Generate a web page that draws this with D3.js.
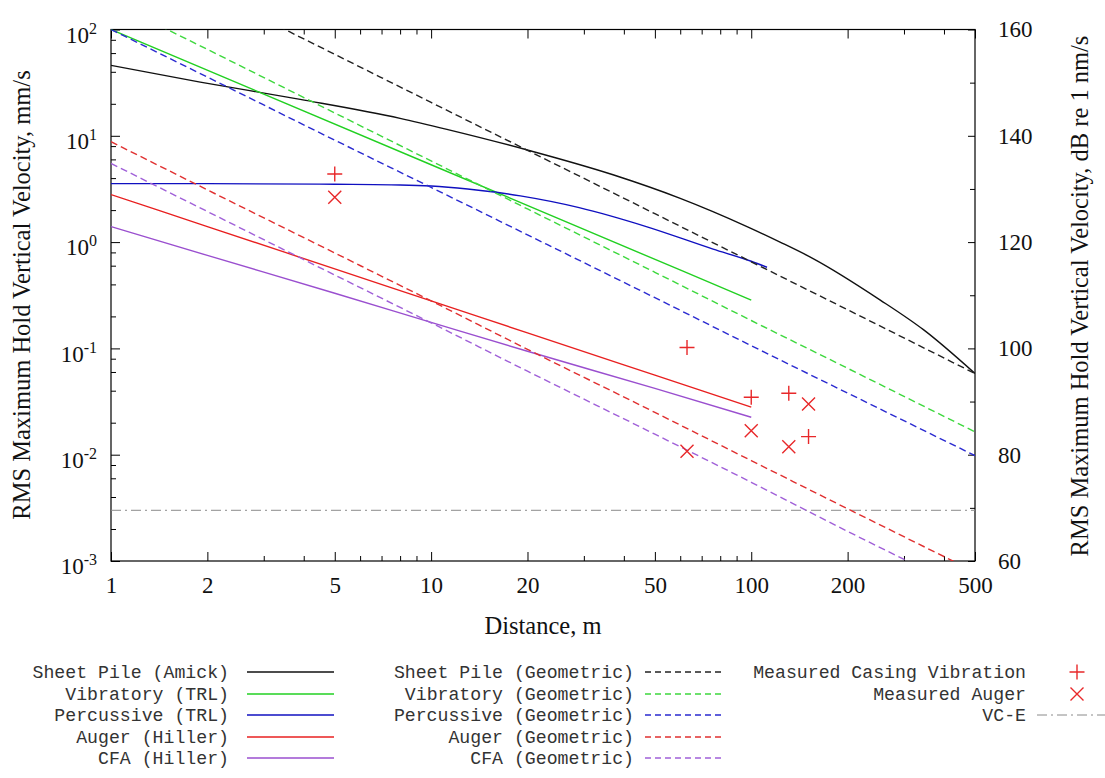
<!DOCTYPE html>
<html><head><meta charset="utf-8">
<script src="https://cdn.jsdelivr.net/npm/d3@7/dist/d3.min.js"></script>
<style>body{margin:0;background:#fff}svg{display:block}</style>
</head><body><svg id="c" width="1105" height="778"></svg>
<script>
// ---- data (distance m, RMS max-hold vertical velocity mm/s) ----
const xTicksMajor = [1, 2, 5, 10, 20, 50, 100, 200, 500];
const xTicksMinor = [3, 4, 6, 7, 8, 9, 30, 40, 60, 70, 80, 90, 300, 400];
const yTicksMajor = [1e-3, 1e-2, 1e-1, 1, 10, 100];
const yTicksMinor = [0.002, 0.004, 0.006, 0.008, 0.02, 0.04, 0.06, 0.08, 0.2, 0.4, 0.6, 0.8, 2, 4, 6, 8, 20, 40, 60, 80];
const dbTicksMajor = [60, 80, 100, 120, 140, 160];
const dbTicksMinor = [70, 90, 110, 130, 150];

const geoDist = [1, 2, 5, 10, 20, 50, 100, 200, 500];

const amickDist = [1, 1.9, 3.9, 8, 11.2, 20, 37, 60, 97, 123, 156, 253, 345, 500];
const amickVel  = [46, 32, 22, 14.6, 11.5, 7.35, 4.3, 2.58, 1.4, 1.0, 0.70, 0.285, 0.15, 0.058];
const vibTrlDist = [1, 10, 100];
const vibTrlVel  = [100, 5.34, 0.285];
const percTrlDist = [1, 2, 5, 8, 10, 13, 16, 19, 29, 47, 76, 100, 112];
const percTrlVel  = [3.55, 3.55, 3.5, 3.45, 3.37, 3.16, 2.94, 2.72, 2.11, 1.4, 0.86, 0.66, 0.58];
const augerHillerDist = [1, 2, 5, 10, 20, 50, 100];
const augerHillerVel  = [2.8, 1.4, 0.56, 0.28, 0.14, 0.056, 0.028];
const cfaHillerDist = [1, 2, 5, 10, 20, 50, 100];
const cfaHillerVel  = [1.4, 0.75, 0.33, 0.176, 0.094, 0.042, 0.0225];

const sheetGeoVel = [653, 231, 58.4, 20.6, 7.3, 1.85, 0.653, 0.231, 0.058];
const vibGeoVel   = [183, 65, 16.4, 5.8, 2.05, 0.52, 0.183, 0.065, 0.0164];
const percGeoVel  = [100, 35.7, 9.1, 3.27, 1.17, 0.30, 0.106, 0.038, 0.0098];
const augerGeoVel = [8.8, 3.1, 0.79, 0.28, 0.098, 0.025, 0.0088, 0.0031, 0.00079];
const cfaGeoVel   = [5.5, 1.94, 0.49, 0.174, 0.061, 0.0156, 0.0055, 0.0019, 0.00049];

const casingDist = [5, 63, 100, 131, 151];
const casingVel  = [4.37, 0.102, 0.0347, 0.0378, 0.0148];
const augerMeasDist = [5, 63, 100, 131, 151];
const augerMeasVel  = [2.64, 0.0108, 0.0168, 0.0119, 0.030];
const vceLevel = 0.003;

const seriesNames = ["Sheet Pile (Amick)", "Vibratory (TRL)", "Percussive (TRL)", "Auger (Hiller)", "CFA (Hiller)",
  "Sheet Pile (Geometric)", "Vibratory (Geometric)", "Percussive (Geometric)", "Auger (Geometric)", "CFA (Geometric)"];
const seriesColors = ["#111111", "#22d022", "#1010c0", "#e82020", "#9a4fcf",
  "#222222", "#3ed83e", "#2a2ad0", "#e03030", "#a060d8"];

// ---- layout ----
const svg = d3.select("#c");
const L = 111, R = 975, T = 29.5, B = 561;
const x = d3.scaleLog().domain([1, 500]).range([L, R]);
const y = d3.scaleLog().domain([1e-3, 1e2]).range([B, T]);
const yR = d3.scaleLinear().domain([60, 160]).range([B, T]);

svg.append("defs").append("clipPath").attr("id", "clip")
  .append("rect").attr("x", L).attr("y", T).attr("width", R - L).attr("height", B - T);

const serif = "'Liberation Serif', 'Times New Roman', serif";
const mono = "'Liberation Mono', 'Courier New', monospace";

function styleAxis(g) {
  g.select(".domain").remove();
  g.selectAll(".tick line").attr("stroke", "#000").attr("stroke-width", 1);
  g.selectAll("text").attr("font-family", serif).attr("font-size", 23).attr("fill", "#111");
}

// bottom axis
svg.append("g").attr("transform", `translate(0,${B})`)
  .call(d3.axisBottom(x).tickValues(xTicksMajor).tickFormat(d3.format("d")).tickSizeInner(-9).tickSizeOuter(0).tickPadding(16))
  .call(styleAxis);
svg.append("g").attr("transform", `translate(0,${B})`)
  .call(d3.axisBottom(x).tickValues(xTicksMinor).tickFormat("").tickSizeInner(-5).tickSizeOuter(0))
  .call(styleAxis);
// top axis mirror
svg.append("g").attr("transform", `translate(0,${T})`)
  .call(d3.axisTop(x).tickValues(xTicksMajor).tickFormat("").tickSizeInner(-9).tickSizeOuter(0))
  .call(styleAxis);
svg.append("g").attr("transform", `translate(0,${T})`)
  .call(d3.axisTop(x).tickValues(xTicksMinor).tickFormat("").tickSizeInner(-5).tickSizeOuter(0))
  .call(styleAxis);
// left axis
const gl = svg.append("g").attr("transform", `translate(${L},0)`)
  .call(d3.axisLeft(y).tickValues(yTicksMajor).tickSizeInner(-9).tickSizeOuter(0).tickPadding(24))
  .call(styleAxis);
gl.selectAll(".tick text").each(function(d) {
  const t = d3.select(this);
  t.text("").attr("x", -14).attr("dy", "0.55em");
  t.append("tspan").text("10");
  t.append("tspan").attr("dy", "-0.55em").attr("font-size", 16).text(Math.round(Math.log10(d)));
});
svg.append("g").attr("transform", `translate(${L},0)`)
  .call(d3.axisLeft(y).tickValues(yTicksMinor).tickFormat("").tickSizeInner(-5).tickSizeOuter(0))
  .call(styleAxis);
// right axis (dB)
svg.append("g").attr("transform", `translate(${R},0)`)
  .call(d3.axisRight(yR).tickValues(dbTicksMajor).tickFormat(d3.format("d")).tickSizeInner(-7).tickSizeOuter(0).tickPadding(23))
  .call(styleAxis);
svg.append("g").attr("transform", `translate(${R},0)`)
  .call(d3.axisRight(yR).tickValues(dbTicksMinor).tickFormat("").tickSizeInner(-5).tickSizeOuter(0))
  .call(styleAxis);

// frame
svg.append("rect").attr("x", L).attr("y", T).attr("width", R - L).attr("height", B - T)
  .attr("fill", "none").attr("stroke", "#000").attr("stroke-width", 1.2);

// titles
svg.append("text").attr("x", 543).attr("y", 634).attr("text-anchor", "middle")
  .attr("font-family", serif).attr("font-size", 24.5).attr("fill", "#111").text("Distance, m");
svg.append("text").attr("transform", "translate(30,295) rotate(-90)").attr("text-anchor", "middle")
  .attr("font-family", serif).attr("font-size", 24.5).attr("fill", "#111")
  .text("RMS Maximum Hold Vertical Velocity, mm/s");
svg.append("text").attr("transform", "translate(1088,296) rotate(-90)").attr("text-anchor", "middle")
  .attr("font-family", serif).attr("font-size", 24.5).attr("fill", "#111")
  .text("RMS Maximum Hold Vertical Velocity, dB re 1 nm/s");

// ---- curves ----
const plot = svg.append("g").attr("clip-path", "url(#clip)");
const line = d3.line().x(d => x(d[0])).y(d => y(d[1])).curve(d3.curveMonotoneX);
const dash = "7,4";
const curves = [
  [amickDist, amickVel, 0, null],
  [vibTrlDist, vibTrlVel, 1, null],
  [percTrlDist, percTrlVel, 2, null],
  [augerHillerDist, augerHillerVel, 3, null],
  [cfaHillerDist, cfaHillerVel, 4, null],
  [geoDist, sheetGeoVel, 5, dash],
  [geoDist, vibGeoVel, 6, dash],
  [geoDist, percGeoVel, 7, dash],
  [geoDist, augerGeoVel, 8, dash],
  [geoDist, cfaGeoVel, 9, dash]
];
// VC-E
plot.append("line").attr("x1", L).attr("x2", R).attr("y1", y(vceLevel)).attr("y2", y(vceLevel))
  .attr("stroke", "#8a8a8a").attr("stroke-width", 1).attr("stroke-dasharray", "10,4,2,4");
curves.forEach(([xs, vs, ci, da]) => {
  plot.append("path").datum(xs.map((d, i) => [d, vs[i]]))
    .attr("d", line).attr("fill", "none").attr("stroke", seriesColors[ci])
    .attr("stroke-width", 1.4).attr("stroke-dasharray", da);
});

// markers
const red = "#e8282a";
function plus(g, cx, cy, s) {
  g.append("path").attr("d", `M${cx - s},${cy}H${cx + s}M${cx},${cy - s}V${cy + s}`)
    .attr("stroke", red).attr("stroke-width", 1.4).attr("fill", "none");
}
function cross(g, cx, cy, s) {
  g.append("path").attr("d", `M${cx - s},${cy - s}L${cx + s},${cy + s}M${cx - s},${cy + s}L${cx + s},${cy - s}`)
    .attr("stroke", red).attr("stroke-width", 1.4).attr("fill", "none");
}
casingDist.forEach((d, i) => plus(plot, x(d), y(casingVel[i]), 7.5));
augerMeasDist.forEach((d, i) => cross(plot, x(d), y(augerMeasVel[i]), 6.5));

// ---- legend ----
const lg = svg.append("g").attr("font-family", mono).attr("font-size", 18.2).attr("fill", "#333");
const rowY = [672, 694, 715, 737, 758];
for (let i = 0; i < 5; i++) {
  lg.append("text").attr("x", 229).attr("y", rowY[i]).attr("dy", "0.35em").attr("text-anchor", "end").text(seriesNames[i]);
  lg.append("line").attr("x1", 247).attr("x2", 334).attr("y1", rowY[i]).attr("y2", rowY[i])
    .attr("stroke", seriesColors[i]).attr("stroke-width", 1.4);
  lg.append("text").attr("x", 634).attr("y", rowY[i]).attr("dy", "0.35em").attr("text-anchor", "end").text(seriesNames[i + 5]);
  lg.append("line").attr("x1", 645).attr("x2", 722).attr("y1", rowY[i]).attr("y2", rowY[i])
    .attr("stroke", seriesColors[i + 5]).attr("stroke-width", 1.4).attr("stroke-dasharray", "6,4");
}
lg.append("text").attr("x", 1026).attr("y", rowY[0]).attr("dy", "0.35em").attr("text-anchor", "end").text("Measured Casing Vibration");
plus(lg, 1077, rowY[0], 7.5);
lg.append("text").attr("x", 1026).attr("y", rowY[1]).attr("dy", "0.35em").attr("text-anchor", "end").text("Measured Auger");
cross(lg, 1077, rowY[1], 6.5);
lg.append("text").attr("x", 1026).attr("y", rowY[2]).attr("dy", "0.35em").attr("text-anchor", "end").text("VC-E");
lg.append("line").attr("x1", 1037).attr("x2", 1105).attr("y1", rowY[2]).attr("y2", rowY[2])
  .attr("stroke", "#8a8a8a").attr("stroke-width", 1).attr("stroke-dasharray", "10,4,2,4");
</script></body></html>
